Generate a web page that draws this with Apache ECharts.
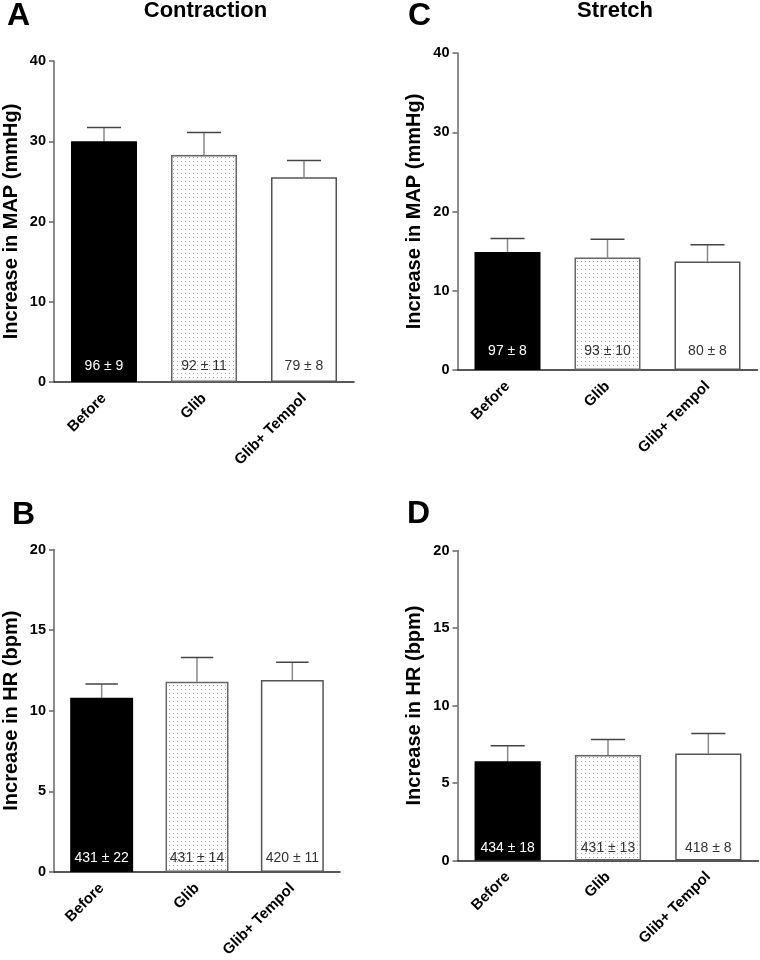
<!DOCTYPE html>
<html>
<head>
<meta charset="utf-8">
<script src="https://cdn.jsdelivr.net/npm/echarts@6/dist/echarts.min.js"></script>
<style>
  html, body { margin: 0; padding: 0; background: #fff; }
  #main { width: 760px; height: 960px; }
</style>
</head>
<body>
<div id="main"></div>
<script>
// groups on the x axis
var categories = ['Before', 'Glib', 'Glib+ Tempol'];

// MAP increase (mmHg), mean and SEM
var mapContraction = [30.0, 28.3, 25.5];
var mapContractionSem = [1.7, 2.8, 2.1];
var mapStretch = [14.9, 14.2, 13.7];
var mapStretchSem = [1.7, 2.3, 2.1];

// HR increase (bpm), mean and SEM
var hrContraction = [10.8, 11.8, 11.9];
var hrContractionSem = [0.85, 1.5, 1.1];
var hrStretch = [6.4, 6.8, 6.9];
var hrStretchSem = [1.0, 1.0, 1.3];

// numbers written inside the bars (baseline values)
var notesA = ['96 \u00b1 9', '92 \u00b1 11', '79 \u00b1 8'];
var notesC = ['97 \u00b1 8', '93 \u00b1 10', '80 \u00b1 8'];
var notesB = ['431 \u00b1 22', '431 \u00b1 14', '420 \u00b1 11'];
var notesD = ['434 \u00b1 18', '431 \u00b1 13', '418 \u00b1 8'];

// y axis ticks
var mapTicks = [0, 10, 20, 30, 40];
var hrTicks = [0, 5, 10, 15, 20];

var FONT = '"Liberation Sans", Arial, Helvetica, sans-serif';

// dotted fill for the Glib bar
var dots = document.createElement('canvas');
dots.width = 4; dots.height = 4;
var dctx = dots.getContext('2d');
dctx.fillStyle = '#fff';
dctx.fillRect(0, 0, 4, 4);
dctx.fillStyle = '#a8a8a8';
dctx.fillRect(1, 1, 1, 1);

var barStyles = [
  { color: '#000', borderColor: '#000', borderWidth: 1.5 },
  { color: { image: dots, repeat: 'repeat' }, borderColor: '#666', borderWidth: 1.5 },
  { color: '#fff', borderColor: '#555', borderWidth: 1.5 }
];
var noteColors = ['#fff', '#333', '#333'];

var grids = [
  { left: 54, top: 61, width: 300, height: 321 },     // A
  { left: 457.5, top: 53, width: 300, height: 317 },  // C
  { left: 52, top: 549.5, width: 288, height: 324 },  // B
  { left: 457.5, top: 550.5, width: 301, height: 310 } // D
];

var panels = [
  { mean: mapContraction, sem: mapContractionSem, notes: notesA, ticks: mapTicks, name: 'Increase in MAP (mmHg)', dist: 9 },
  { mean: mapStretch, sem: mapStretchSem, notes: notesC, ticks: mapTicks, name: 'Increase in MAP (mmHg)', dist: 12 },
  { mean: hrContraction, sem: hrContractionSem, notes: notesB, ticks: hrTicks, name: 'Increase in HR (bpm)', dist: 7 },
  { mean: hrStretch, sem: hrStretchSem, notes: notesD, ticks: hrTicks, name: 'Increase in HR (bpm)', dist: 5 }
];

function renderErr(params, api) {
  var x = api.value(0), m = api.value(1), hi = api.value(2);
  var p0 = api.coord([x, m]);
  var p1 = api.coord([x, hi]);
  var w = api.size([1, 0])[0] * 0.34;
  return {
    type: 'group',
    children: [
      { type: 'line', shape: { x1: p0[0], y1: p0[1], x2: p1[0], y2: p1[1] }, style: { stroke: '#8a8a8a', lineWidth: 1.5 } },
      { type: 'line', shape: { x1: p1[0] - w / 2, y1: p1[1], x2: p1[0] + w / 2, y2: p1[1] }, style: { stroke: '#444', lineWidth: 1.5 } }
    ]
  };
}

var xAxes = [], yAxes = [], series = [];
panels.forEach(function (p, i) {
  var ticks = p.ticks;
  xAxes.push({
    type: 'category', gridIndex: i, data: categories,
    axisLine: { lineStyle: { color: '#222', width: 1.5 } },
    axisTick: { alignWithLabel: true, length: 6, lineStyle: { color: '#666', width: 1.5 } },
    axisLabel: { rotate: 45, margin: 14, color: '#000', fontFamily: FONT, fontWeight: 'bold', fontSize: 15 }
  });
  yAxes.push({
    type: 'value', gridIndex: i,
    min: ticks[0], max: ticks[ticks.length - 1], interval: ticks[1] - ticks[0],
    name: p.name, nameLocation: 'middle', nameGap: 33, nameRotate: 90,
    nameTextStyle: { color: '#000', fontFamily: FONT, fontWeight: 'bold', fontSize: 20 },
    axisLine: { show: true, lineStyle: { color: '#666', width: 1.5 } },
    axisTick: { show: true, length: 5, lineStyle: { color: '#666', width: 1.5 } },
    axisLabel: { margin: 8, color: '#000', fontFamily: FONT, fontWeight: 'bold', fontSize: 14.5 },
    splitLine: { show: false }
  });
  series.push({
    type: 'bar', xAxisIndex: i, yAxisIndex: i, barWidth: '66%', z: 3,
    data: p.mean.map(function (v, k) {
      return { value: v, itemStyle: barStyles[k], label: { color: noteColors[k] } };
    }),
    label: {
      show: true, position: 'insideBottom', distance: p.dist,
      fontFamily: FONT, fontSize: 14,
      formatter: function (q) { return p.notes[q.dataIndex]; }
    },
    silent: true
  });
  series.push({
    type: 'custom', xAxisIndex: i, yAxisIndex: i, z: 2,
    renderItem: renderErr,
    encode: { x: 0, y: [1, 2] },
    data: p.mean.map(function (v, k) { return [k, v, v + p.sem[k]]; }),
    silent: true
  });
});

var titleStyle = { fill: '#000', fontFamily: FONT, fontWeight: 'bold' };
function txt(x, y, s, size, align) {
  return {
    type: 'text', x: x, y: y,
    style: Object.assign({ text: s, fontSize: size, textAlign: align || 'left', textVerticalAlign: 'middle' }, titleStyle)
  };
}

var chart = echarts.init(document.getElementById('main'), null, { renderer: 'canvas' });
chart.setOption({
  animation: false,
  grid: grids,
  xAxis: xAxes,
  yAxis: yAxes,
  series: series,
  graphic: [
    txt(7, 16, 'A', 32),
    txt(205.5, 11, 'Contraction', 22, 'center'),
    txt(408, 16, 'C', 32),
    txt(615, 11, 'Stretch', 22, 'center'),
    txt(12, 515, 'B', 32),
    txt(407, 514, 'D', 32)
  ]
});
</script>
</body>
</html>
